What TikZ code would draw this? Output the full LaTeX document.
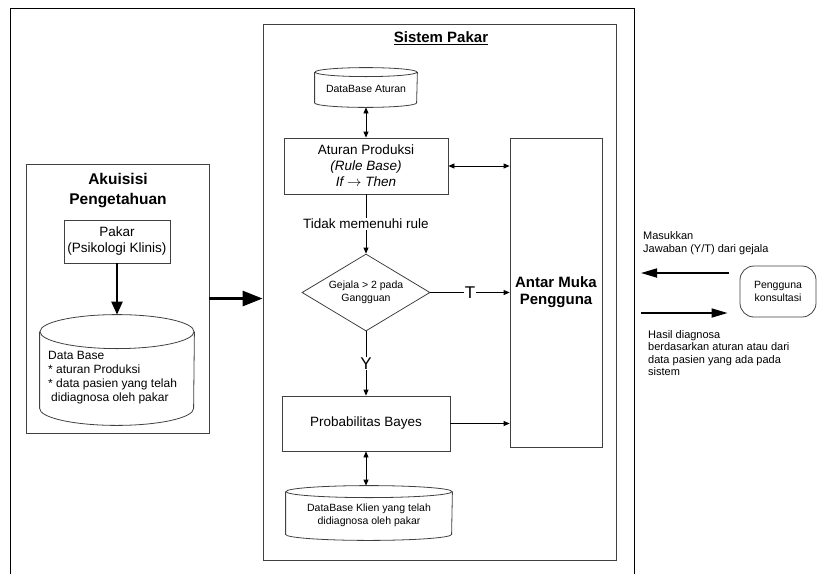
\documentclass[tikz,border=0pt]{standalone}
\usepackage{fontspec}
\setmainfont{Liberation Sans}
\usetikzlibrary{shapes.geometric,arrows.meta}
\newcommand\fsz[2]{\fontsize{#1}{#2}\selectfont}
% cylinder outline round a named node: #1 node, #2 x radius, #3 y radius
\newcommand\tabung[3]{%
    \draw[draw=black!75, line width=0.8pt] ([yshift=-#3pt]#1.north) ellipse [x radius=#2pt, y radius=#3pt];
    \draw[draw=black!75, line width=0.8pt] ([yshift=-#3pt]#1.north west) -- ([yshift=#3pt]#1.south west)
        arc [start angle=180, end angle=360, x radius=#2pt, y radius=#3pt] -- ([yshift=-#3pt]#1.north east);
}

\begin{document}
\begin{tikzpicture}[x=1pt,y=-1pt,
    box/.style={draw=black!75, line width=0.8pt, rectangle, inner sep=0pt, align=center},
    txt/.style={font=\fsz{13.5}{16}},
    small/.style={font=\fsz{10.5}{13}},
    note/.style={font=\fsz{11}{12.5}, align=left, anchor=west, inner sep=0pt},
    thin/.style={-{Triangle[length=6pt,width=5pt]}, line width=0.8pt},
    both/.style={{Triangle[length=6pt,width=5pt]}-{Triangle[length=6pt,width=5pt]}, line width=0.8pt},
    fat/.style={-{Triangle[length=13pt,width=11pt]}, line width=2.5pt},
    fatter/.style={-{Triangle[length=20pt,width=15pt]}, line width=2.8pt},
    arah/.style={-{Triangle[length=16pt,width=9pt]}, line width=1.7pt}]
    \useasboundingbox (0,0) rectangle (817,574);

    \draw[line width=0.8pt] (10,574) -- (10,8) -- (634,8) -- (634,574); % outer frame

    % sistem pakar
    \node[box, minimum width=353, minimum height=536] (sistem) at (439.5,292) {};
    \node[font=\bfseries\fsz{15}{18}] (sistemjudul) at (441,38) {\underline{Sistem Pakar}};
    \node[box, draw=none, small, minimum width=102, minimum height=39] (dbaturan) at (366,87.5) {\\[-3pt]DataBase Aturan};
    \tabung{dbaturan}{51}{4.5}
    \node[box, txt, minimum width=164, minimum height=56] (aturan) at (366,166) {Aturan Produksi\\\textit{(Rule Base)}\\\textit{If $\rightarrow$ Then}};
    \node[box, font=\bfseries\fsz{15}{17}, minimum width=92, minimum height=309] (antarmuka) at (556,292.5) {Antar Muka\\Pengguna};
    \node[draw=black!75, line width=0.8pt, diamond, aspect=1.66, minimum width=128, minimum height=77, inner sep=0pt, small, align=center] (gejala) at (366,292.5) {Gejala > 2 pada\\Gangguan};
    \node[box, txt, minimum width=168, minimum height=55] (bayes) at (366,423.5) {Probabilitas Bayes};
    \node[box, draw=none, small, minimum width=166, minimum height=54] (dbklien) at (369,513) {\\[-1pt]DataBase Klien yang telah\\didiagnosa oleh pakar};
    \tabung{dbklien}{83}{6}

    \draw[both] (dbaturan.south) -- (aturan.north);
    \draw[both] (aturan.east) -- (aturan.east -| antarmuka.west);
    \draw[thin] (aturan.south) -- node[fill=white, txt, inner sep=1pt] (tidak) {Tidak memenuhi rule} (gejala.north);
    \draw[thin] (gejala.east) -- node[fill=white, font=\fsz{17}{19}, inner sep=1pt] (labelt) {T} (gejala.east -| antarmuka.west);
    \draw[thin] (gejala.south) -- node[fill=white, font=\fsz{17}{19}, inner sep=1pt] (labely) {Y} (bayes.north);
    \draw[thin] (bayes.east) -- (bayes.east -| antarmuka.west);
    \draw[both] (bayes.south) -- (bayes.south |- dbklien.north);

    % akuisisi pengetahuan
    \node[box, minimum width=183, minimum height=269] (akuisisi) at (117.5,298.5) {};
    \node[font=\bfseries\fsz{15.5}{20}, align=center] (akjudul) at (118,191) {Akuisisi\\Pengetahuan};
    \node[box, txt, minimum width=106, minimum height=43] (pakar) at (117,241.5) {Pakar\\(Psikologi Klinis)};
    \node[box, draw=none, minimum width=154, minimum height=110] (dbpakar) at (117,370) {};
    \tabung{dbpakar}{77}{17}
    \node[font=\fsz{12}{14}, align=left, anchor=west, inner sep=0pt] (dbpakarisi) at (48,378) {Data Base\\* aturan Produksi\\* data pasien yang telah\\\hspace*{3pt}didiagnosa oleh pakar};
    \draw[fat] (pakar.south) -- (dbpakar.north);
    \draw[fatter] (akuisisi.east) -- (akuisisi.east -| sistem.west);

    % pengguna
    \node[draw=black!75, line width=0.8pt, rounded corners=14pt, minimum width=76, minimum height=51, small, align=center, inner sep=0pt] (pengguna) at (778,291.5) {Pengguna\\konsultasi};
    \coordinate (kiri1) at (641,273);
    \coordinate (kiri2) at (641,313);
    \draw[arah, shorten <=11pt] (pengguna.west |- kiri1) -- (kiri1);
    \draw[arah, shorten >=12pt] (kiri2) -- (pengguna.west |- kiri2);
    \node[note] (masukan) at (643,243) {Masukkan\\Jawaban (Y/T) dari gejala};
    \node[note] (hasil) at (648,353) {Hasil diagnosa\\berdasarkan aturan atau dari\\data pasien yang ada pada\\sistem};
\end{tikzpicture}
\end{document}
